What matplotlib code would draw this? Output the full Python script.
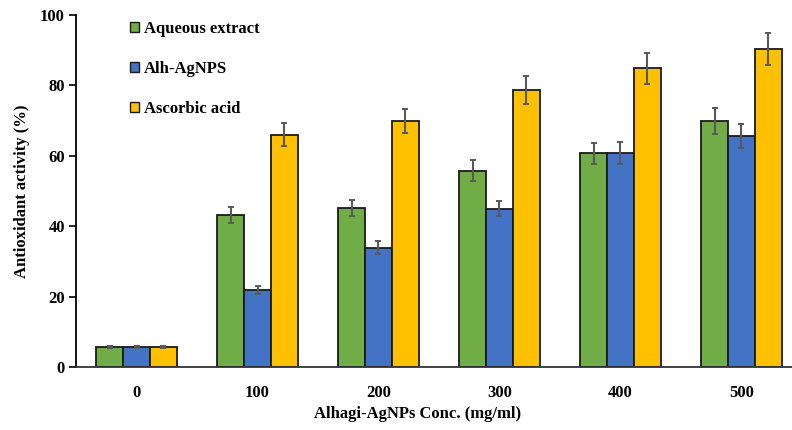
import matplotlib
matplotlib.use("Agg")
import matplotlib.pyplot as plt
import numpy as np
from matplotlib.patches import Patch

categories = ["0", "100", "200", "300", "400", "500"]
series_names = ["Aqueous extract", "Alh-AgNPS", "Ascorbic acid"]
aqueous = [5.8, 43.2, 45.1, 55.8, 60.7, 69.9]
aqueous_err = [0.3, 2.2, 2.3, 3.0, 3.0, 3.7]
alh = [5.8, 21.9, 33.9, 45.0, 60.8, 65.7]
alh_err = [0.3, 1.2, 1.9, 2.2, 3.2, 3.4]
ascorbic = [5.8, 66.0, 69.9, 78.7, 84.9, 90.3]
ascorbic_err = [0.3, 3.3, 3.5, 4.0, 4.4, 4.5]
colors = ["#70AD47", "#4472C4", "#FFC000"]
yticks = [0, 20, 40, 60, 80, 100]

plt.rcParams['font.family'] = ['Liberation Serif', 'DejaVu Serif']
plt.rcParams['font.weight'] = 'bold'

fig = plt.figure(figsize=(7.92, 4.30), dpi=100)
ax = fig.add_axes([76/792, 63/430, 726/792, 352/430])

x = np.arange(len(categories))
w = 0.223
vals = [aqueous, alh, ascorbic]
errs = [aqueous_err, alh_err, ascorbic_err]
for i, (v, e, c) in enumerate(zip(vals, errs, colors)):
    ax.bar(x + (i - 1) * w, v, w, color=c, edgecolor="#1a1a1a", linewidth=1.3,
           yerr=e, error_kw=dict(ecolor="#595959", elinewidth=1.5, capsize=2.5, capthick=1.4),
           zorder=2)

ax.set_xlim(-0.5, 5.5)
ax.set_ylim(0, 100)
ax.set_yticks(yticks)
ax.set_xticks(x)
ax.set_xticklabels(categories, fontsize=12, fontweight='bold')
ax.set_yticklabels([str(t) for t in yticks], fontsize=12, fontweight='bold')
ax.tick_params(axis='x', length=0, pad=13)
ax.tick_params(axis='y', length=5, width=1.2, direction='out', pad=3)
for s in ['top', 'right']:
    ax.spines[s].set_visible(False)
ax.spines['left'].set_linewidth(1.3)
ax.spines['bottom'].set_linewidth(1.3)
ax.spines['bottom'].set_color('#333333')

ax.set_ylabel("Antioxidant activity (%)", fontsize=12, fontweight='bold', labelpad=7)
fig.text(418/792, 1 - 414/430, "Alhagi-AgNPs Conc. (mg/ml)", ha='center', va='center',
         fontsize=12, fontweight='bold')

handles = [Patch(facecolor=c, edgecolor='#1a1a1a', linewidth=1.0) for c in colors]
leg = ax.legend(handles, series_names, loc='upper left',
                bbox_to_anchor=(130/792, 1 - 21/430), bbox_transform=fig.transFigure,
                frameon=False, fontsize=12, handlelength=0.55, handleheight=0.55,
                handletextpad=0.3, labelspacing=1.45, borderpad=0, borderaxespad=0)
for t in leg.get_texts():
    t.set_fontweight('bold')

fig.savefig("out.png", dpi=100)
